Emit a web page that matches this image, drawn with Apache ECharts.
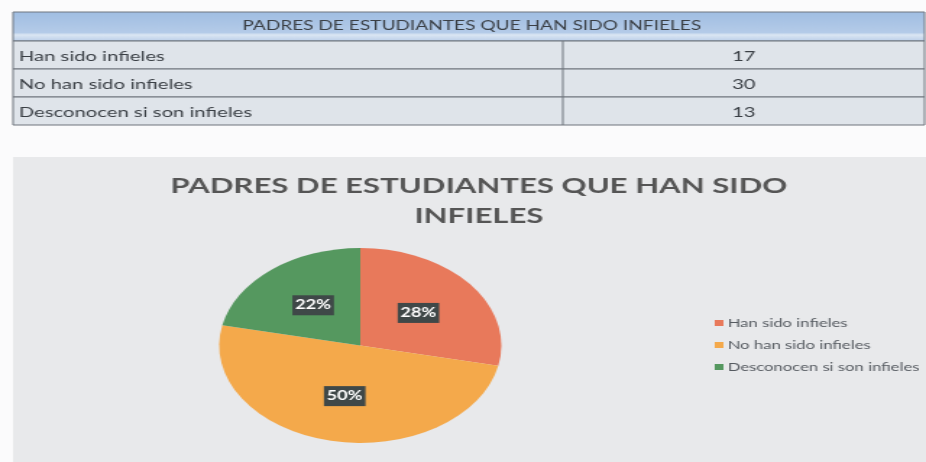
<!DOCTYPE html>
<html>
<head>
<meta charset="utf-8">
<script src="https://cdn.jsdelivr.net/npm/echarts@6/dist/echarts.min.js"></script>
<style>
  html, body { margin: 0; padding: 0; background: #fbfbfc; overflow: hidden; }
  #wrap { position: absolute; left: 0; top: 0; width: 640px; height: 462px;
          transform: scaleX(1.446875); transform-origin: 0 0; }
</style>
</head>
<body>
<div id="wrap"></div>
<script>
// ---- data ----
const tableTitle = 'PADRES DE ESTUDIANTES QUE HAN SIDO INFIELES';
const chartTitle = 'PADRES DE ESTUDIANTES QUE HAN SIDO\nINFIELES';
const categories = ['Han sido infieles', 'No han sido infieles', 'Desconocen si son infieles'];
const values = [17, 30, 13];
const sliceColors = ['#e8795b', '#f4a94b', '#55985f'];

// ---- layout (unstretched coords; page is a horizontally stretched scan) ----
const tL = 9, tR = 639, tDiv = 389, tTop = 12, headH = 29, rowH = 28;
const FONT = 'Lato, "Open Sans", sans-serif';

const graphics = [];
// chart panel background
graphics.push({ type: 'rect', z: 0, shape: { x: tL, y: 157, width: 640 - tL, height: 305 },
  style: { fill: '#e8e9eb' } });
// header
graphics.push({ type: 'rect', z: 1, shape: { x: tL, y: tTop, width: tR - tL, height: headH },
  style: { fill: new echarts.graphic.LinearGradient(0, 0, 0, 1, [
    { offset: 0, color: '#9fbde2' }, { offset: 0.7, color: '#b4cbe8' },
    { offset: 0.78, color: '#dbe6f3' }, { offset: 1, color: '#b9cde8' }]),
    stroke: '#6f7780', lineWidth: 1 } });
graphics.push({ type: 'text', z: 3, x: (tL + tR) / 2 + 2, y: tTop + headH / 2 - 1,
  style: { text: tableTitle, font: '13.2px ' + FONT, fill: '#3a3f45', align: 'center', verticalAlign: 'middle' } });
// rows
categories.forEach((c, i) => {
  const y = tTop + headH + i * rowH;
  graphics.push({ type: 'rect', z: 1, shape: { x: tL, y: y, width: tR - tL, height: rowH },
    style: { fill: '#dfe4ea', stroke: '#6f757c', lineWidth: 1 } });
  graphics.push({ type: 'line', z: 2, shape: { x1: tDiv, y1: y, x2: tDiv, y2: y + rowH },
    style: { stroke: '#6f757c', lineWidth: 1 } });
  graphics.push({ type: 'text', z: 3, x: tL + 4, y: y + rowH / 2 + 1,
    style: { text: c, font: '14px ' + FONT, fill: '#3a3f45', verticalAlign: 'middle' } });
  graphics.push({ type: 'text', z: 3, x: (tDiv + tR) / 2, y: y + rowH / 2 + 1,
    style: { text: String(values[i]), font: '14px ' + FONT, fill: '#3a3f45', align: 'center', verticalAlign: 'middle' } });
});

const chart = echarts.init(document.getElementById('wrap'), null, { renderer: 'canvas' });
chart.setOption({
  animation: false,
  backgroundColor: 'transparent',
  color: sliceColors,
  title: {
    text: chartTitle,
    left: 326, top: 166, textAlign: 'center',
    textStyle: { fontFamily: FONT, fontWeight: 'bold', fontSize: 21.5, color: '#555555', lineHeight: 30 }
  },
  legend: {
    orient: 'vertical', left: 489, top: 312,
    icon: 'rect', itemWidth: 6, itemHeight: 6, itemGap: 10,
    data: categories,
    textStyle: { fontFamily: FONT, fontSize: 11.5, color: '#555a60', padding: [0, 0, 0, -2] }
  },
  graphic: graphics,
  series: [{
    type: 'pie',
    z: 5,
    center: [249, 345.5],
    radius: [0, 97.5],
    startAngle: 90,
    clockwise: true,
    emphasis: { disabled: true },
    itemStyle: { borderWidth: 0 },
    label: {
      show: true, position: 'inside',
      formatter: p => Math.round(p.percent) + '%',
      fontFamily: FONT, fontWeight: 'bold', fontSize: 12.5, color: '#ffffff',
      backgroundColor: '#3f4848', padding: [4, 2, 3, 2]
    },
    labelLine: { show: false },
    data: categories.map((c, i) => ({ name: c, value: values[i] }))
  }]
});
</script>
</body>
</html>
